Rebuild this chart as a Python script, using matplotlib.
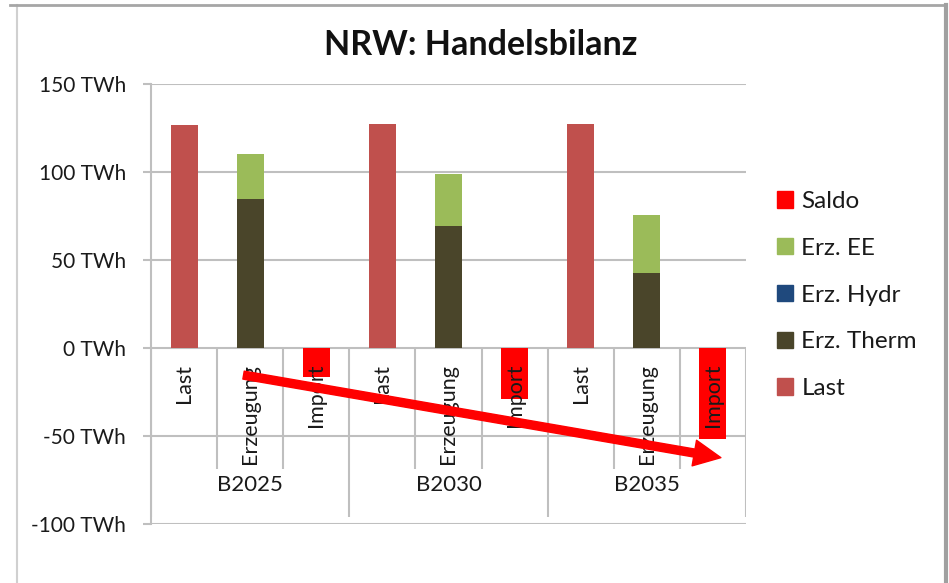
import matplotlib
matplotlib.use('Agg')
import matplotlib.pyplot as plt
from matplotlib.lines import Line2D
from matplotlib.patches import Patch

plt.rcParams['font.family'] = ['Lato', 'DejaVu Sans']

# data (TWh)
scenarios = ['B2025', 'B2030', 'B2035']
items = ['Last', 'Erzeugung', 'Import']
last = [126.5, 127.5, 127.5]
erz_therm = [84.5, 69.5, 42.5]
erz_hydr = [0.0, 0.0, 0.0]
erz_ee = [26.0, 29.2, 33.0]
saldo = [-16.3, -29.0, -51.6]
yticks = [-100, -50, 0, 50, 100, 150]

c_last = '#C0504D'
c_therm = '#4A452A'
c_hydr = '#1F497D'
c_ee = '#9BBB59'
c_saldo = '#FF0000'
grid = '#BFBFBF'
txt = '#1A1A1A'

fig = plt.figure(figsize=(9.49, 5.83), dpi=100)
ax = fig.add_axes([151/949, 1-524/583, 595/949, 440/583])

n = len(items)
x_last = [i*n + 0 for i in range(len(scenarios))]
x_erz = [i*n + 1 for i in range(len(scenarios))]
x_imp = [i*n + 2 for i in range(len(scenarios))]
w = 0.41

ax.bar(x_last, last, w, color=c_last, zorder=3)
ax.bar(x_erz, erz_therm, w, color=c_therm, zorder=3)
bottom_h = [a + b for a, b in zip(erz_therm, erz_hydr)]
ax.bar(x_erz, erz_hydr, w, bottom=erz_therm, color=c_hydr, zorder=3)
ax.bar(x_erz, erz_ee, w, bottom=bottom_h, color=c_ee, zorder=3)
ax.bar(x_imp, saldo, w, color=c_saldo, zorder=3)

ax.set_xlim(-0.5, n*len(scenarios) - 0.5)
ax.set_ylim(-100, 150)
ax.set_yticks(yticks)
ax.set_yticklabels(['%d TWh' % v for v in yticks])
ax.set_xticks([])
for v in yticks:
    ax.axhline(v, color=grid, lw=1.5, zorder=1)

for s in ['top', 'right', 'bottom']:
    ax.spines[s].set_visible(False)
ax.spines['left'].set_color(grid)
ax.spines['left'].set_linewidth(1.5)
ax.tick_params(axis='y', length=6, width=1.5, color=grid, pad=12,
               labelsize=15, labelcolor=txt)

# category table below zero line
for i in range(len(scenarios)):
    for j in range(n):
        ax.text(i*n + j, -9, items[j], rotation=90, ha='center', va='top',
                fontsize=15.5, color=txt, zorder=5)
    ax.text(i*n + 1, -78, scenarios[i], ha='center', va='center',
            fontsize=16, color=txt)
    ax.vlines([i*n + 0.5, i*n + 1.5], -68.6, 0, color=grid, lw=1.5, zorder=2)
ax.vlines([i*n - 0.5 for i in range(len(scenarios) + 1)], -95.8, 0,
          color=grid, lw=1.5, zorder=2)

# red trend arrow
arrow_start = (0.9, -15.4)
arrow_end = (8.12, -62.3)
ax.annotate('', xy=arrow_end, xytext=arrow_start, annotation_clip=False,
            arrowprops=dict(arrowstyle='simple,head_length=19.4,head_width=18.7,tail_width=5.8',
                            mutation_scale=1, color='red', shrinkA=0, shrinkB=0),
            zorder=6)

fig.text(0.507, 1-45/583, 'NRW: Handelsbilanz', ha='center', va='center',
         fontsize=24.5, fontweight='bold', color='#111111')

handles = [Patch(color=c_saldo), Patch(color=c_ee), Patch(color=c_hydr),
           Patch(color=c_therm), Patch(color=c_last)]
labels = ['Saldo', 'Erz. EE', 'Erz. Hydr', 'Erz. Therm', 'Last']
fig.legend(handles, labels, loc='upper left', bbox_to_anchor=(777/949, 1-191/583),
           frameon=False, fontsize=17.5, borderpad=0, borderaxespad=0,
           handlelength=0.66, handleheight=0.66, handletextpad=0.34,
           labelspacing=1.06, labelcolor=txt)

# chart border
fig.add_artist(Line2D([17/949, 17/949], [0, 1-5/583], color='#D0D0D0', lw=1.5))
fig.add_artist(Line2D([10/949, 946/949], [1-5/583, 1-5/583], color='#A6A6A6', lw=2))
fig.add_artist(Line2D([946/949, 946/949], [0, 1-5/583], color='#A0A0A0', lw=3))

fig.savefig('out.png', dpi=100)
